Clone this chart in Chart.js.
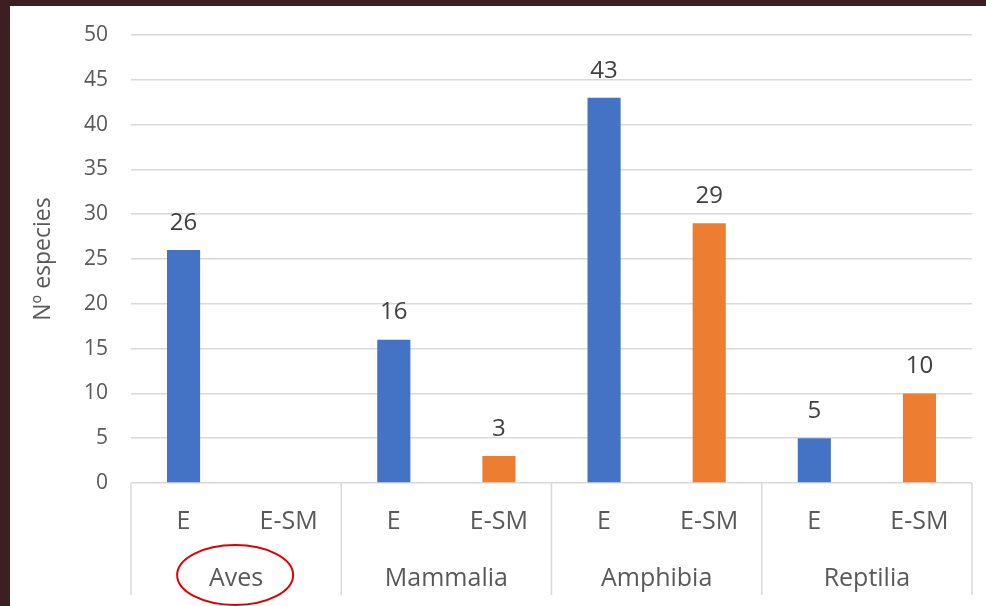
<!DOCTYPE html>
<html>
<head>
<meta charset="utf-8">
<script src="https://cdn.jsdelivr.net/npm/chart.js@4.4.1/dist/chart.umd.min.js"></script>
<style>
  html, body { margin: 0; padding: 0; }
  body { width: 986px; height: 606px; background: #3f1e21; position: relative; overflow: hidden; }
  #box { position: absolute; left: 10px; top: 6px; width: 976px; height: 600px; background: #fff; }
  canvas { display: block; }
</style>
</head>
<body>
<div id="box"><canvas id="chart" width="976" height="600"></canvas></div>
<script>
// datos
const subLabels = ["E", "E-SM", "E", "E-SM", "E", "E-SM", "E", "E-SM"];
const groups = ["Aves", "Mammalia", "Amphibia", "Reptilia"];
const valuesE = [26, null, 16, null, 43, null, 5, null];
const valuesESM = [null, null, null, 3, null, 29, null, 10];
const yTicks = [0, 5, 10, 15, 20, 25, 30, 35, 40, 45, 50];

const FONT = "'Open Sans', sans-serif";

// etiquetas de datos encima de las barras
const valueLabels = {
  id: "valueLabels",
  afterDatasetsDraw(chart) {
    const ctx = chart.ctx;
    ctx.save();
    ctx.font = "24px " + FONT;
    ctx.fillStyle = "#404040";
    ctx.textAlign = "center";
    ctx.textBaseline = "middle";
    chart.data.datasets.forEach((ds, i) => {
      chart.getDatasetMeta(i).data.forEach((bar, j) => {
        if (ds.data[j] == null) return;
        ctx.fillText(ds.data[j], bar.x, bar.y - 27);
      });
    });
    ctx.restore();
  },
};

// separadores de grupos y elipse roja
const groupLines = {
  id: "groupLines",
  afterDraw(chart) {
    const ctx = chart.ctx;
    const x = chart.scales.x;
    const x2 = chart.scales.x2;
    const bottom = chart.chartArea.bottom;
    ctx.save();
    ctx.strokeStyle = "#d9d9d9";
    ctx.lineWidth = 1.5;
    for (let g = 0; g <= groups.length; g++) {
      const px = x.left + (x.right - x.left) * g / groups.length;
      ctx.beginPath();
      ctx.moveTo(px, bottom);
      ctx.lineTo(px, 589);
      ctx.stroke();
    }
    // elipse alrededor de "Aves"
    ctx.strokeStyle = "#e00000";
    ctx.lineWidth = 2;
    ctx.beginPath();
    ctx.ellipse(x2.getPixelForValue(0) - 1, x2.top + 22, 58, 30, 0, 0, Math.PI * 2);
    ctx.stroke();
    ctx.restore();
  },
};

new Chart(document.getElementById("chart").getContext("2d"), {
  type: "bar",
  data: {
    labels: subLabels,
    datasets: [
      { label: "E", data: valuesE, backgroundColor: "#4472c4", skipNull: true },
      { label: "E-SM", data: valuesESM, backgroundColor: "#ed7d31", skipNull: true },
    ],
  },
  options: {
    responsive: false,
    animation: false,
    categoryPercentage: 1,
    barPercentage: 0.315,
    layout: { padding: { top: 29, right: 14, left: 0, bottom: 0 } },
    plugins: { legend: { display: false }, tooltip: { enabled: false } },
    scales: {
      y: {
        min: 0,
        max: 50,
        afterBuildTicks: (s) => { s.ticks = yTicks.map((v) => ({ value: v })); },
        afterFit: (s) => { s.width = 121; s.paddingTop = 0; s.paddingBottom = 0; },
        grid: { color: "#d9d9d9", lineWidth: 1.5, drawTicks: false },
        border: { display: false },
        ticks: { color: "#595959", font: { family: FONT, size: 21 }, padding: 23 },
        title: { display: true, text: "Nº especies", color: "#595959", font: { family: FONT, size: 23 }, padding: { top: 20, bottom: 0 } },
      },
      x: {
        afterFit: (s) => { s.height = 70; },
        grid: { display: false },
        border: { display: false },
        ticks: { color: "#595959", font: { family: FONT, size: 25 }, padding: 16, maxRotation: 0, autoSkip: false },
      },
      x2: {
        type: "category",
        labels: groups,
        position: "bottom",
        weight: 1,
        afterFit: (s) => { s.height = 53; },
        grid: { display: false },
        border: { display: false },
        ticks: { color: "#595959", font: { family: FONT, size: 25 }, padding: 3, maxRotation: 0, autoSkip: false },
      },
    },
  },
  plugins: [valueLabels, groupLines],
});
</script>
</body>
</html>
